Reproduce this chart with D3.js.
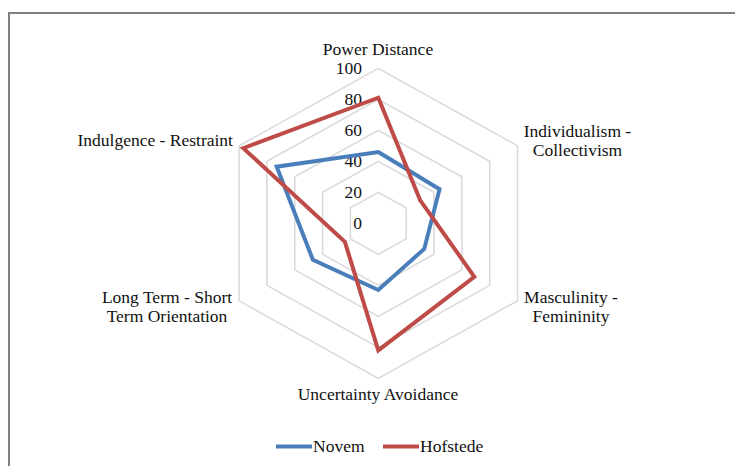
<!DOCTYPE html>
<html>
<head>
<meta charset="utf-8">
<script src="https://cdn.jsdelivr.net/npm/d3@7"></script>
<style>
  html, body { margin: 0; padding: 0; background: #fff; }
  svg { display: block; }
  text { font-family: "Liberation Serif", "Times New Roman", serif; fill: #111; }
</style>
</head>
<body>
<svg id="chart" width="735" height="466"></svg>
<script>
// ---- data ----
const dimensions = [
  ["Power Distance"],
  ["Individualism -", "Collectivism"],
  ["Masculinity -", "Femininity"],
  ["Uncertainty Avoidance"],
  ["Long Term - Short", "Term Orientation"],
  ["Indulgence - Restraint"]
];
const seriesNames = ["Novem", "Hofstede"];
const novemValues = [46, 44, 33, 43, 47, 73];
const hofstedeValues = [81, 30, 69, 82, 24, 97];
const tickValues = [0, 20, 40, 60, 80, 100];

// ---- layout ----
const svg = d3.select("#chart");
const cx = 378.3, cy = 223.3, R = 155, xStretch = 1.037;
const fontSize = 17.5;
const colors = ["#4A7EBB", "#BE4B48"];
const r = d3.scaleLinear().domain([0, 100]).range([0, R]);
const angle = d3.scaleLinear().domain([0, dimensions.length]).range([0, 2 * Math.PI]);
const px = (i, v) => cx + r(v) * Math.sin(angle(i)) * xStretch;
const py = (i, v) => cy - r(v) * Math.cos(angle(i));

// background + frame
svg.append("rect").attr("width", 735).attr("height", 466).attr("fill", "#fff");
svg.append("rect").attr("x", 9).attr("y", 13).attr("width", 740).attr("height", 470)
  .attr("fill", "none").attr("stroke", "#808080").attr("stroke-width", 2);

// grid hexagons
const line = d3.line();
tickValues.filter(t => t > 0).forEach(t => {
  const pts = dimensions.map((d, i) => [px(i, t), py(i, t)]);
  svg.append("path").attr("d", line(pts) + "Z")
    .attr("fill", "none").attr("stroke", "#d9d9d9").attr("stroke-width", 1.5);
});

// tick labels
svg.selectAll("text.tick").data(tickValues).enter().append("text")
  .attr("class", "tick")
  .attr("x", 362).attr("y", d => py(0, d))
  .attr("dy", "0.35em")
  .attr("text-anchor", "end")
  .attr("font-size", fontSize)
  .text(d => d);

// series
[novemValues, hofstedeValues].forEach((vals, s) => {
  const pts = vals.map((v, i) => [px(i, v), py(i, v)]);
  svg.append("path").attr("d", line(pts) + "Z")
    .attr("fill", "none").attr("stroke", colors[s]).attr("stroke-width", 4)
    .attr("stroke-linejoin", "miter");
});

// axis labels
const labelPos = [
  { x: 378, y: 55, anchor: "middle" },
  { x: 577.5, y: 137, anchor: "middle" },
  { x: 571, y: 303, anchor: "middle" },
  { x: 378, y: 400, anchor: "middle" },
  { x: 167, y: 303, anchor: "middle" },
  { x: 233, y: 146, anchor: "end" }
];
dimensions.forEach((lines, i) => {
  const t = svg.append("text")
    .attr("x", labelPos[i].x).attr("y", labelPos[i].y)
    .attr("text-anchor", labelPos[i].anchor)
    .attr("font-size", fontSize);
  lines.forEach((l, k) => {
    t.append("tspan").attr("x", labelPos[i].x).attr("dy", k === 0 ? 0 : 19).text(l);
  });
});

// legend
const legendX = [276, 383];
seriesNames.forEach((n, s) => {
  svg.append("line")
    .attr("x1", legendX[s]).attr("x2", legendX[s] + 36)
    .attr("y1", 446.5).attr("y2", 446.5)
    .attr("stroke", colors[s]).attr("stroke-width", 4);
  svg.append("text")
    .attr("x", legendX[s] + 37).attr("y", 452)
    .attr("font-size", fontSize)
    .text(n);
});
</script>
</body>
</html>
